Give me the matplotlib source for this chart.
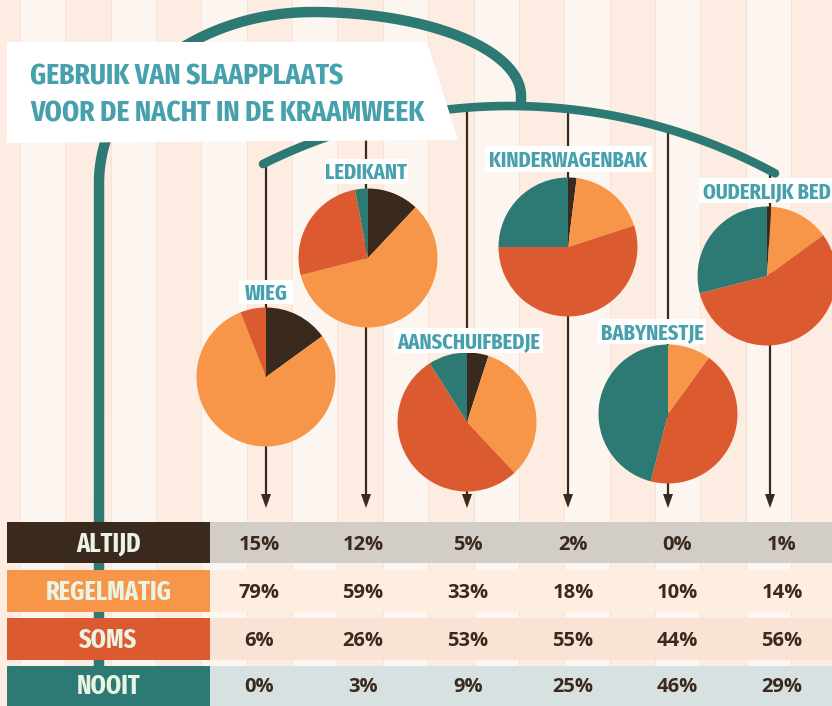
import os
import matplotlib
matplotlib.use('Agg')
import matplotlib.pyplot as plt
from matplotlib import font_manager
from matplotlib.font_manager import FontProperties
from matplotlib.patches import Rectangle, Polygon
import numpy as np

W, H = 832, 706

# data
plaatsen = ['WIEG', 'LEDIKANT', 'AANSCHUIFBEDJE', 'KINDERWAGENBAK', 'BABYNESTJE', 'OUDERLIJK BED']
antwoorden = ['ALTIJD', 'REGELMATIG', 'SOMS', 'NOOIT']
altijd = [15, 12, 5, 2, 0, 1]
regelmatig = [79, 59, 33, 18, 10, 14]
soms = [6, 26, 53, 55, 44, 56]
nooit = [0, 3, 9, 25, 46, 29]
titel = ['GEBRUIK VAN SLAAPPLAATS', 'VOOR DE NACHT IN DE KRAAMWEEK']

# kleuren
bruin = '#3a2a1e'
oranje = '#f79648'
rood = '#dc5a30'
teal = '#2c7a73'
kleuren = [bruin, oranje, rood, teal]
celkleuren = ['#d3cdc7', '#fdeee1', '#fae2d5', '#d8e1e2']
tekst_teal = '#46a1ad'
licht = '#fdf5f0'
donker = '#fcece2'


def kies_smalle_font():
    # zoek een vette, smalle letter (zo dicht mogelijk bij de originele)
    beste = None
    for f in font_manager.fontManager.ttflist:
        b = os.path.basename(f.fname).lower().replace('-', '').replace('_', '')
        if 'bold' not in b or 'italic' in b or 'oblique' in b:
            continue
        if 'extrabold' in b or 'semibold' in b or 'ultrabold' in b:
            continue
        if 'extracondensed' in b:
            score = 0
        elif 'semicondensed' in b:
            score = 3
        elif 'condensed' in b:
            score = 1
        elif 'narrow' in b:
            score = 2
        else:
            continue
        if beste is None or score < beste[0]:
            beste = (score, f.fname)
    return beste


gevonden = kies_smalle_font()
if gevonden:
    smal = FontProperties(fname=gevonden[1])
else:
    smal = FontProperties(family='DejaVu Sans', weight='bold', stretch='condensed')
cijfers = FontProperties(family=['Open Sans', 'DejaVu Sans'], weight='bold')
CAP = 0.72


def Y(y):
    # pixels vanaf de bovenkant -> as-coordinaten
    return H - y


fig = plt.figure(figsize=(8.32, 7.06), dpi=100)
ax = fig.add_axes([0, 0, 1, 1])
renderer = fig.canvas.get_renderer()


def pas_in(teksten, breedtes, max_cap, extra=1.0):
    # zelfde lettergrootte voor een groep, afgestemd op de breedte
    fits = []
    for t, b in zip(teksten, breedtes):
        t.set_fontsize(20)
        w = t.get_window_extent(renderer).width
        fits.append(20 * b / w)
    fs = min(np.mean(fits) * extra, max_cap / CAP * 0.72)
    for t in teksten:
        t.set_fontsize(fs)
    return fs * 100 / 72 * CAP


# achtergrond strepen
ax.add_patch(Rectangle((0, 0), W, H, color=donker, zorder=0))
breedte = 45.35
for k in range(-1, 10):
    x0 = 20 + k * 2 * breedte
    ax.add_patch(Rectangle((x0, 0), breedte, H, color=licht, lw=0, zorder=0.1))
for k in range(-2, 20):
    ax.plot([20 + k * breedte] * 2, [0, H], color='#f8e2d3', lw=0.7, zorder=0.2)

# haak van het mobiel
t = np.linspace(np.pi, np.pi / 2, 80)
lx = 313 + 214 * np.cos(t)
ly = 183 - 171 * np.sin(t)
t2 = np.linspace(np.pi / 2, 0, 80)
rx = 313 + 208 * np.cos(t2)
ry = 96 - 84 * np.sin(t2)
hx = np.concatenate([[99], lx, rx, [521]])
hy = np.concatenate([[H + 5], ly, ry, [106]])
ax.plot(hx, Y(hy), color=teal, lw=7.5, solid_capstyle='butt', zorder=1.5)

# stang
R, cx0, cy0 = 555, 510, 661
bx = np.linspace(263, 775, 200)
by = cy0 - np.sqrt(R ** 2 - (bx - cx0) ** 2)
ax.plot(bx, Y(by), color=teal, lw=6.2, solid_capstyle='round', zorder=1.6)

# touwtjes met pijlen
touw_x = [266, 366, 467, 568, 668, 770]
for x in touw_x:
    y0 = cy0 - np.sqrt(R ** 2 - (x - cx0) ** 2)
    ax.plot([x, x], [Y(y0), Y(497)], color=bruin, lw=1.6, zorder=1.4)
    ax.fill([x - 5, x + 5, x], [Y(494), Y(494), Y(508)], color=bruin, lw=0, zorder=1.4)

# taarten
centra = [(266, 377), (368, 258), (467, 422), (568, 247), (668, 414), (767, 276)]
for i, (cx, cy) in enumerate(centra):
    vals = [altijd[i], regelmatig[i], soms[i], nooit[i]]
    ax.pie(vals, colors=kleuren, center=(cx, Y(cy)), radius=69.5, startangle=90,
           counterclock=False, frame=True, wedgeprops=dict(linewidth=0, zorder=4))

# labels bij de taarten (witte vakjes)
vakjes = [(239, 293, 280, 304), (325, 408, 159, 184), (394, 543, 328, 353),
          (485, 652, 146, 172), (598, 706, 319, 344), (699, 834, 178, 203)]
label_breedte = [43, 80, 143, 163, 104, 125]
labels = []
for naam, (x1, x2, y1, y2) in zip(plaatsen, vakjes):
    ax.add_patch(Rectangle((x1, Y(y2)), x2 - x1, y2 - y1, color='white', lw=0, zorder=6))
    labels.append(ax.text((x1 + x2) / 2, 0, naam, ha='center', va='baseline',
                          fontproperties=smal, color=tekst_teal, zorder=6.5))
cap = pas_in(labels, label_breedte, 20)
for tx, (x1, x2, y1, y2) in zip(labels, vakjes):
    tx.set_y(Y((y1 + y2) / 2 + cap / 2))

# titel
ax.add_patch(Polygon([(7, Y(42)), (427, Y(42)), (458, Y(140)), (7, Y(143))],
                     closed=True, color='white', lw=0, zorder=5))
titels = [ax.text(30, 0, regel, ha='left', va='baseline', fontproperties=smal,
                  color=tekst_teal, zorder=5.5) for regel in titel]
cap = pas_in(titels, [312, 394], 27)
titels[0].set_y(Y(73.5 + cap / 2))
titels[1].set_y(Y(111 + cap / 2))

# tabel
waarden = [altijd, regelmatig, soms, nooit]
rijen = [(522, 563), (570, 612), (618, 660), (666, 710)]
kolom_x = [259, 363, 468, 573, 677, 782]
rij_labels = []
for r, (top, bodem) in enumerate(rijen):
    ax.add_patch(Rectangle((7, Y(bodem)), 203, bodem - top, color=kleuren[r], lw=0, zorder=7))
    ax.add_patch(Rectangle((210, Y(bodem)), W - 210, bodem - top, color=celkleuren[r], lw=0, zorder=7))
    rij_labels.append(ax.text(108.5, 0, antwoorden[r], ha='center', va='baseline',
                              fontproperties=smal, color='#ebf4e4', zorder=8))
    ym = (top + min(bodem, 704)) / 2
    for c, x in enumerate(kolom_x):
        ax.text(x, Y(ym + 7.5), '%d%%' % waarden[r][c], ha='center', va='baseline',
                fontproperties=cijfers, fontsize=14.5, color=bruin, zorder=8)
cap = pas_in(rij_labels, [57, 108, 49, 51], 19, extra=1.2)
for tx, (top, bodem) in zip(rij_labels, rijen):
    tx.set_y(Y((top + min(bodem, 704)) / 2 + cap / 2))

ax.set_xlim(0, W)
ax.set_ylim(0, H)
ax.set_aspect('auto')
ax.axis('off')

fig.savefig('out.png', dpi=100)
